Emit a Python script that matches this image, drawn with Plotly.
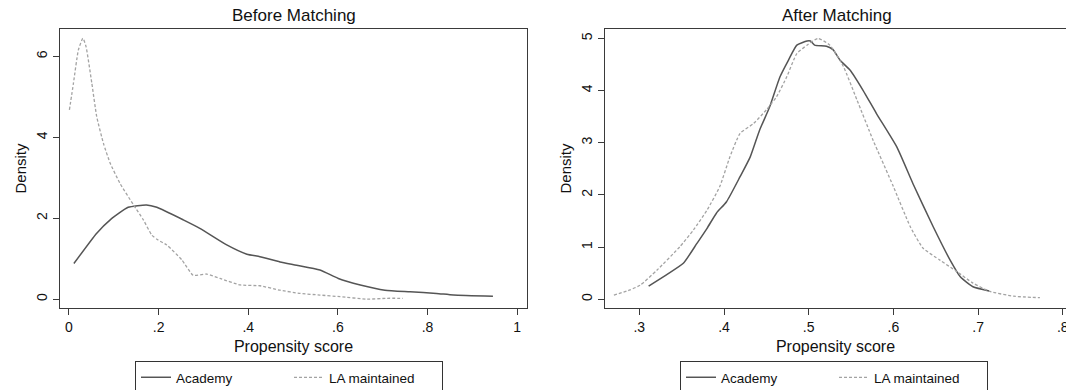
import plotly.graph_objects as go

# ---- Data ----
before_acad_x = [0.011, 0.062, 0.092, 0.132, 0.173, 0.196, 0.255, 0.292, 0.352, 0.397, 0.426, 0.471, 0.508, 0.56, 0.601, 0.65, 0.705, 0.761, 0.82, 0.858, 0.946]
before_acad_y = [0.88, 1.63, 1.96, 2.27, 2.33, 2.27, 1.96, 1.75, 1.34, 1.11, 1.05, 0.92, 0.84, 0.72, 0.51, 0.35, 0.22, 0.18, 0.14, 0.10, 0.07]

before_la_x = [0.001, 0.01, 0.021, 0.031, 0.038, 0.051, 0.062, 0.077, 0.092, 0.114, 0.144, 0.166, 0.185, 0.199, 0.218, 0.252, 0.277, 0.307, 0.337, 0.382, 0.426, 0.471, 0.516, 0.56, 0.605, 0.665, 0.709, 0.745]
before_la_y = [4.68, 5.34, 6.16, 6.45, 6.25, 5.34, 4.51, 3.85, 3.36, 2.86, 2.33, 1.96, 1.58, 1.46, 1.34, 0.97, 0.59, 0.62, 0.51, 0.35, 0.33, 0.22, 0.14, 0.10, 0.06, 0.0, 0.02, 0.02]

after_acad_x = [0.311, 0.332, 0.352, 0.368, 0.380, 0.391, 0.403, 0.419, 0.431, 0.442, 0.454, 0.466, 0.476, 0.486, 0.498, 0.502, 0.507, 0.521, 0.529, 0.537, 0.549, 0.564, 0.580, 0.604, 0.623, 0.647, 0.667, 0.679, 0.694, 0.713]
after_acad_y = [0.25, 0.47, 0.69, 1.07, 1.36, 1.65, 1.87, 2.35, 2.73, 3.24, 3.69, 4.26, 4.58, 4.87, 4.95, 4.95, 4.87, 4.85, 4.78, 4.58, 4.39, 4.01, 3.56, 2.92, 2.22, 1.39, 0.75, 0.43, 0.24, 0.16]

after_la_x = [0.270, 0.289, 0.301, 0.321, 0.348, 0.364, 0.380, 0.395, 0.407, 0.419, 0.435, 0.450, 0.462, 0.474, 0.486, 0.498, 0.511, 0.525, 0.541, 0.557, 0.576, 0.600, 0.620, 0.635, 0.655, 0.675, 0.694, 0.714, 0.742, 0.773]
after_la_y = [0.08, 0.18, 0.27, 0.56, 1.01, 1.33, 1.71, 2.16, 2.73, 3.18, 3.37, 3.63, 3.88, 4.26, 4.71, 4.87, 5.0, 4.87, 4.46, 3.82, 3.05, 2.16, 1.39, 0.98, 0.75, 0.53, 0.31, 0.15, 0.06, 0.03]

left_xticks = [0, 0.2, 0.4, 0.6, 0.8, 1]
left_xticklabels = ["0", ".2", ".4", ".6", ".8", "1"]
left_yticks = [0, 2, 4, 6]
right_xticks = [0.3, 0.4, 0.5, 0.6, 0.7, 0.8]
right_xticklabels = [".3", ".4", ".5", ".6", ".7", ".8"]
right_yticks = [0, 1, 2, 3, 4, 5]

titles = ["Before Matching", "After Matching"]
series_names = ["Academy", "LA maintained"]

FONT = "Liberation Sans, Arial, Helvetica, sans-serif"
SOLID = "#555555"
DASH = "#a3a3a3"
AXC = "#3a3a3a"

fig = go.Figure()

fig.add_trace(go.Scatter(x=before_acad_x, y=before_acad_y, mode="lines", name=series_names[0],
                         line=dict(color=SOLID, width=1.5, shape="spline", smoothing=0.5),
                         xaxis="x", yaxis="y", legend="legend"))
fig.add_trace(go.Scatter(x=before_la_x, y=before_la_y, mode="lines", name=series_names[1],
                         line=dict(color=DASH, width=1.3, dash="3px,2px", shape="spline", smoothing=0.5),
                         xaxis="x", yaxis="y", legend="legend"))
fig.add_trace(go.Scatter(x=after_acad_x, y=after_acad_y, mode="lines", name=series_names[0],
                         line=dict(color=SOLID, width=1.5, shape="spline", smoothing=0.5),
                         xaxis="x2", yaxis="y2", legend="legend2"))
fig.add_trace(go.Scatter(x=after_la_x, y=after_la_y, mode="lines", name=series_names[1],
                         line=dict(color=DASH, width=1.3, dash="3px,2px", shape="spline", smoothing=0.5),
                         xaxis="x2", yaxis="y2", legend="legend2"))

axis_common = dict(showline=True, mirror=True, linecolor=AXC, linewidth=1,
                   ticks="outside", ticklen=6, tickcolor=AXC, showgrid=False, zeroline=False,
                   ticklabeloverflow="allow", automargin=False,
                   tickfont=dict(family=FONT, size=14, color="#111"))

ydom = [1 - 308 / 390, 1 - 29 / 390]

legend_common = dict(orientation="h", xanchor="left", y=1 - 361 / 390, yanchor="top",
                     bordercolor="#333", borderwidth=1, font=dict(family=FONT, size=13.5, color="#111"),
                     entrywidth=108, entrywidthmode="pixels", tracegroupgap=0)

fig.update_layout(
    width=1066, height=390,
    margin=dict(l=0, r=0, t=0, b=0, autoexpand=False),
    paper_bgcolor="white", plot_bgcolor="white",
    font=dict(family=FONT, color="#111"),
    xaxis=dict(domain=[60 / 1066, 527 / 1066], range=[-0.02, 1.022],
               tickvals=left_xticks, ticktext=left_xticklabels,
               title=dict(text="Propensity score", font=dict(size=16), standoff=7),
               anchor="y", **axis_common),
    yaxis=dict(domain=ydom, range=[-0.22, 6.68], tickvals=left_yticks, tickangle=-90,
               title=dict(text="Density", font=dict(size=15), standoff=4),
               anchor="x", **axis_common),
    xaxis2=dict(domain=[605 / 1066, 1.0], range=[0.2595, 0.8038],
                tickvals=right_xticks, ticktext=right_xticklabels,
                title=dict(text="Propensity score", font=dict(size=16), standoff=7),
                anchor="y2", **axis_common),
    yaxis2=dict(domain=ydom, range=[-0.167, 5.18], tickvals=right_yticks, tickangle=-90,
                title=dict(text="Density", font=dict(size=15), standoff=4),
                anchor="x2", **axis_common),
    legend=dict(x=135 / 1066, **legend_common),
    legend2=dict(x=680 / 1066, **legend_common),
    annotations=[
        dict(text=titles[0], x=(60 + 527) / 2 / 1066, y=1 - 16 / 390, xref="paper", yref="paper",
             showarrow=False, font=dict(family=FONT, size=17, color="#111"), xanchor="center", yanchor="middle"),
        dict(text=titles[1], x=837 / 1066, y=1 - 16 / 390, xref="paper", yref="paper",
             showarrow=False, font=dict(family=FONT, size=17, color="#111"), xanchor="center", yanchor="middle"),
    ],
    showlegend=True,
)

fig.write_html("out.html", config={"displayModeBar": False},
               post_script="document.body.style.margin='0px';document.body.style.overflow='hidden';")
